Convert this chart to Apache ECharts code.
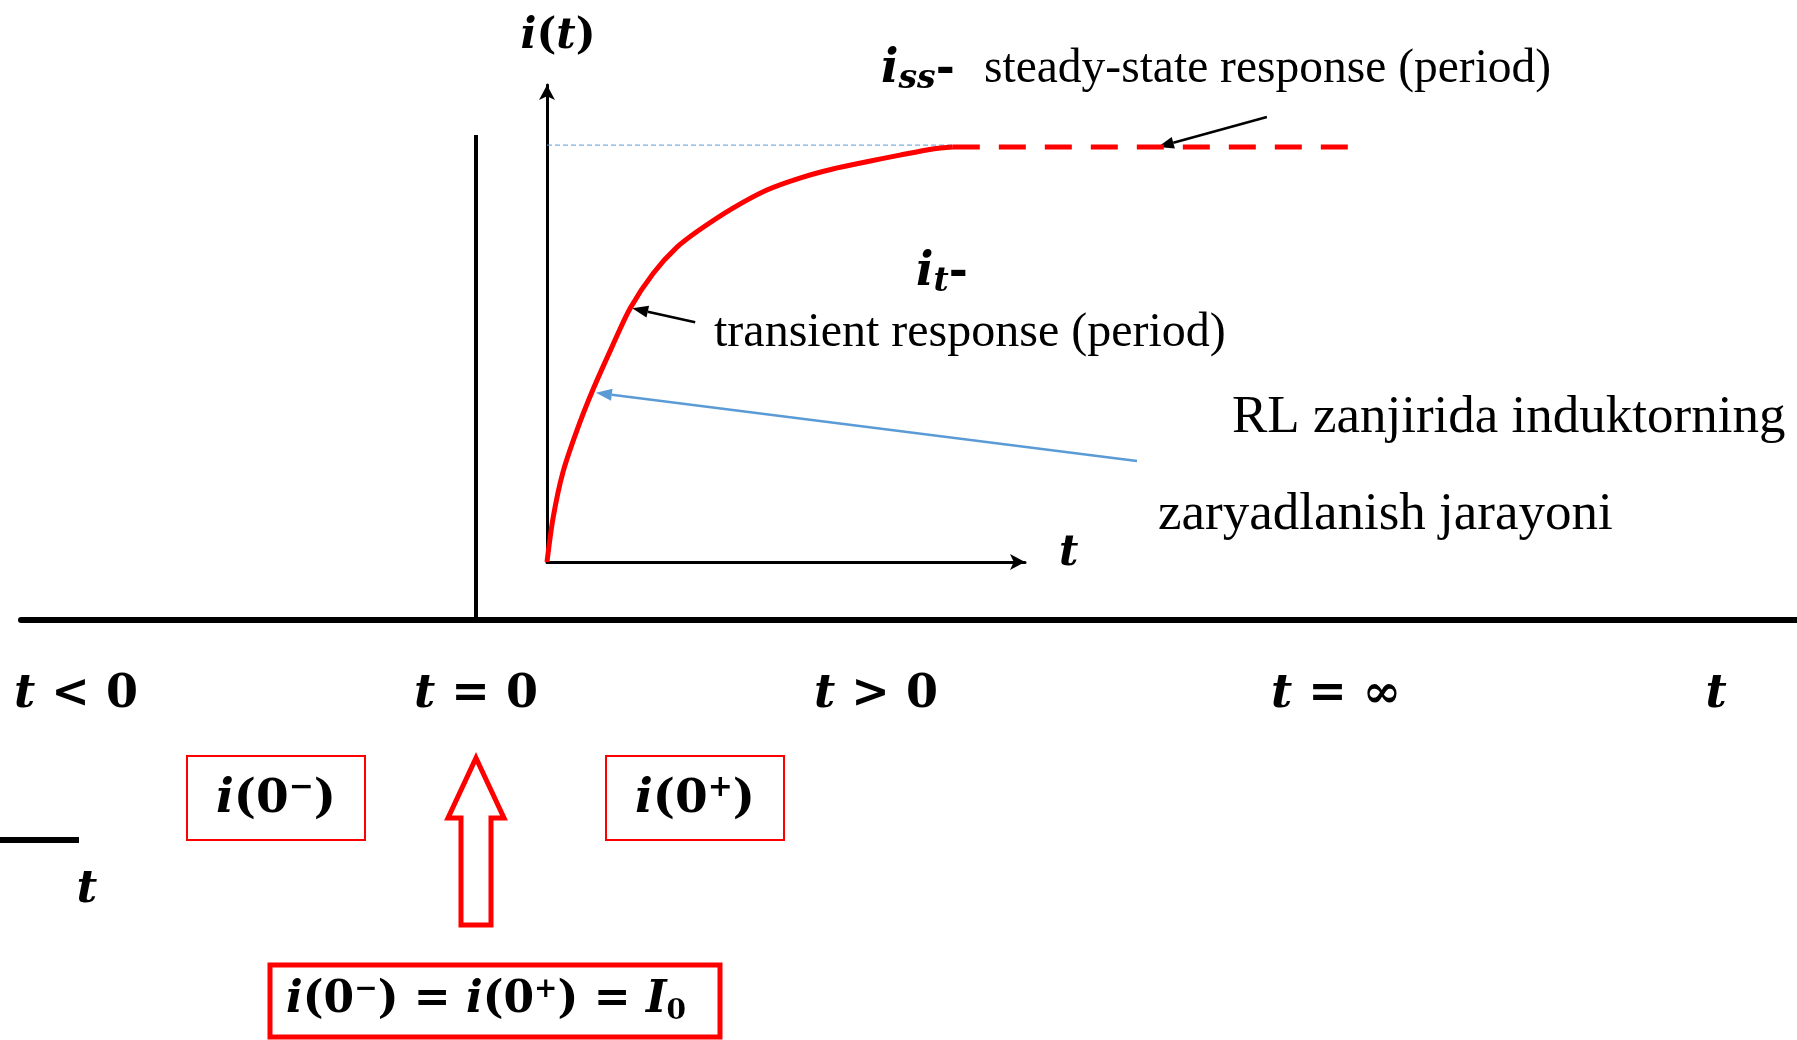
<!DOCTYPE html>
<html>
<head>
<meta charset="utf-8">
<script src="https://cdn.jsdelivr.net/npm/echarts@6/dist/echarts.min.js"></script>
<style>
  html, body { margin: 0; padding: 0; background: #fff; }
  #chart { width: 1797px; height: 1040px; }
</style>
</head>
<body>
<div id="chart"></div>
<script>
// transient part of i(t) (small axes run 0..10 both ways)
const curveT = [0, 0.13, 0.33, 0.63, 0.96, 1.36, 1.74, 2.22, 2.72, 3.20, 3.89, 4.60, 5.29, 5.98, 6.69, 7.38, 8.07, 8.49];
const curveI = [0, 0.94, 1.87, 2.77, 3.61, 4.51, 5.32, 6.05, 6.60, 6.97, 7.42, 7.80, 8.05, 8.24, 8.39, 8.53, 8.66, 8.70];
// steady state (dashed), it runs on past the end of the small t axis
const steadyT = [8.49, 17.03];
const steadyI = 8.70;
// big time line under the plot, t = 0 is the switching moment
const zoneLabels = ['t < 0', 't = 0', 't > 0', 't = ∞', 't'];
const zoneAt = [-1, 0, 1, 2.15, 3.1];

const serif = '"Liberation Serif", "Times New Roman", serif';
const math = '"DejaVu Serif", serif';

const chart = echarts.init(document.getElementById('chart'));

// rich styles for echarts labels (axis name / axis labels)
function mathRichE(size) {
  const base = { fontFamily: math, fontWeight: 'bold', fontSize: size, lineHeight: size + 6, color: '#000' };
  return {
    it: { ...base, fontStyle: 'italic' },
    n: { ...base }
  };
}

// rich styles for graphic texts (zrender style props)
function mathRichG(size, subRatio) {
  const f = (st, s) => st + ' bold ' + s + 'px ' + math;
  const small = Math.round(size * (subRatio || 0.64));
  return {
    it: { font: f('italic', size), lineHeight: size + 6, fill: '#000' },
    n: { font: f('normal', size), lineHeight: size + 6, fill: '#000' },
    sup: { font: f('normal', small), lineHeight: Math.round(size * 0.5), verticalAlign: 'top', fill: '#000' },
    subIt: { font: f('italic', small), lineHeight: Math.round(size * 0.4), verticalAlign: 'bottom', fill: '#000' },
    subN: { font: f('normal', small), lineHeight: Math.round(size * 0.4), verticalAlign: 'bottom', fill: '#000' }
  };
}

const hiddenAxis = { show: false };

const option = {
  backgroundColor: '#fff',
  animation: false,
  grid: [
    { left: 547, top: 85, width: 478, height: 477 },   // small i(t) plot
    { left: 21, top: 135, width: 1776, height: 485 },   // big time line
    { left: 547, top: 85, width: 956, height: 477 }     // same scale as the small plot, wider, for the dashed i_ss
  ],
  xAxis: [
    {
      gridIndex: 0, type: 'value', min: 0, max: 10,
      axisLine: { onZero: false, lineStyle: { color: '#000', width: 3 }, symbol: ['none', 'arrow'], symbolSize: [12, 15] },
      axisTick: { show: false }, axisLabel: { show: false }, splitLine: { show: false },
      name: '{it|t}', nameLocation: 'end', nameGap: 34,
      nameTextStyle: { rich: mathRichE(42), padding: [0, 0, 16, 0] }
    },
    {
      gridIndex: 1, type: 'value', min: -1.1375, max: 3.3025,
      axisLine: { onZero: false, lineStyle: { color: '#000', width: 6 } },
      axisTick: { show: true, inside: true, length: 485, customValues: [0], lineStyle: { color: '#000', width: 4 } },
      splitLine: { show: false },
      axisLabel: {
        customValues: zoneAt,
        margin: 49,
        formatter: (v) => {
          let k = zoneAt.findIndex(z => Math.abs(z - v) < 1e-6);
          if (k < 0) return '';
          const s = zoneLabels[k];
          return '{it|t}' + (s.length > 1 ? '{n|' + s.slice(1) + '}' : '');
        },
        rich: mathRichE(46)
      }
    },
    { gridIndex: 2, type: 'value', min: 0, max: 20, ...hiddenAxis }
  ],
  yAxis: [
    {
      gridIndex: 0, type: 'value', min: 0, max: 10,
      axisLine: { onZero: false, lineStyle: { color: '#000', width: 3 }, symbol: ['none', 'arrow'], symbolSize: [12, 15] },
      axisTick: { show: false }, axisLabel: { show: false }, splitLine: { show: false },
      name: '{it|i}{n|(}{it|t}{n|)}', nameLocation: 'end', nameGap: 24,
      nameTextStyle: { rich: mathRichE(42), padding: [0, 0, 0, 22] }
    },
    { gridIndex: 1, type: 'value', min: 0, max: 1, ...hiddenAxis },
    { gridIndex: 2, type: 'value', min: 0, max: 10, ...hiddenAxis }
  ],
  series: [
    {
      name: 'transient', type: 'line', xAxisIndex: 0, yAxisIndex: 0,
      data: curveT.map((t, k) => [t, curveI[k]]),
      smooth: 0.3, showSymbol: false, z: 4,
      lineStyle: { color: '#ff0000', width: 5 }
    },
    {
      name: 'steady', type: 'line', xAxisIndex: 2, yAxisIndex: 2,
      data: steadyT.map(t => [t, steadyI]),
      showSymbol: false, z: 4,
      lineStyle: { color: '#ff0000', width: 5, type: [27, 19] }
    },
    {
      name: 'iss level', type: 'line', xAxisIndex: 0, yAxisIndex: 0,
      data: [[0, steadyI + 0.04], [steadyT[0], steadyI + 0.04]],
      showSymbol: false, z: 2,
      lineStyle: { color: '#5b9bd5', width: 1, type: [5, 3] }
    }
  ]
};

chart.setOption(option);

function arrow(from, to, color, width, headLen, headW) {
  const dx = to[0] - from[0], dy = to[1] - from[1];
  const len = Math.hypot(dx, dy);
  const ux = dx / len, uy = dy / len;
  const bx = to[0] - ux * headLen, by = to[1] - uy * headLen;
  const px = -uy * headW / 2, py = ux * headW / 2;
  return [
    { type: 'line', silent: true, shape: { x1: from[0], y1: from[1], x2: bx, y2: by }, style: { stroke: color, lineWidth: width } },
    { type: 'polygon', silent: true, shape: { points: [to, [bx + px, by + py], [bx - px, by - py]] }, style: { fill: color } }
  ];
}

function plainText(x, y, text, size) {
  return { type: 'text', x: x, y: y, silent: true,
    style: { text: text, font: size + 'px ' + serif, fill: '#000', align: 'left', verticalAlign: 'middle' } };
}

function mathText(x, y, text, size, align, subRatio) {
  return { type: 'text', x: x, y: y, silent: true,
    style: { text: text, rich: mathRichG(size, subRatio), font: 'bold ' + size + 'px ' + math, fill: '#000', align: align || 'center', verticalAlign: 'middle' } };
}

function box(x, y, w, h, lw) {
  return { type: 'rect', silent: true, shape: { x: x, y: y, width: w, height: h },
    style: { fill: 'none', stroke: '#ff0000', lineWidth: lw } };
}

const px = (t, i) => chart.convertToPixel({ gridIndex: 0 }, [t, i]);
const x0 = chart.convertToPixel({ xAxisIndex: 1 }, 0);

const ssTip = px(12.78, steadyI);
const trTip = px(curveT[6], curveI[6]);
const blTip = px(curveT[4], curveI[4]);
trTip[0] += 2; blTip[0] += 3; blTip[1] += 3;   // tips sit on the edge of the thick stroke

const graphics = [
  // labels around the curve
  mathText(881, 70, '{it|i}{subIt|ss}{n|-}', 46, 'left', 0.72),
  plainText(984, 70, 'steady-state response (period)', 47.5),
  mathText(916, 273, '{it|i}{subIt|t}{n|-}', 46, 'left', 0.72),
  plainText(714, 333, 'transient response (period)', 48),
  plainText(1232, 418, 'RL zanjirida induktorning', 53),
  plainText(1158, 515, 'zaryadlanish jarayoni', 53),
  ...arrow([ssTip[0] + 109, ssTip[1] - 30], ssTip, '#000', 2.5, 16, 12),
  ...arrow([trTip[0] + 63, trTip[1] + 14], trTip, '#000', 2.5, 16, 12),
  ...arrow([1137, 461], blTip, '#5b9bd5', 2.5, 16, 12),

  // i(0-) and i(0+) boxes
  box(187, 756, 178, 84, 2),
  mathText(276, 800, '{it|i}{n|(0}{sup|−}{n|)}', 47),
  box(606, 756, 178, 84, 2),
  mathText(695, 800, '{it|i}{n|(0}{sup|+}{n|)}', 47),

  // hollow arrow pointing at t = 0
  { type: 'polygon', silent: true,
    shape: { points: [[x0, 758], [x0 + 28, 818], [x0 + 15, 818], [x0 + 15, 925], [x0 - 15, 925], [x0 - 15, 818], [x0 - 28, 818]] },
    style: { fill: '#fff', stroke: '#ff0000', lineWidth: 5, lineJoin: 'miter' } },

  // continuity condition
  box(270, 965, 450, 72, 5),
  mathText(486, 1001, '{it|i}{n|(0}{sup|−}{n|) = }{it|i}{n|(0}{sup|+}{n|) = }{it|I}{subN|0}', 44),

  // bit of another slide element at the left edge
  { type: 'line', silent: true, shape: { x1: 0, y1: 840, x2: 79, y2: 840 }, style: { stroke: '#000', lineWidth: 6 } },
  mathText(87, 890, '{it|t}', 45)
];

chart.setOption({ graphic: graphics });
</script>
</body>
</html>
